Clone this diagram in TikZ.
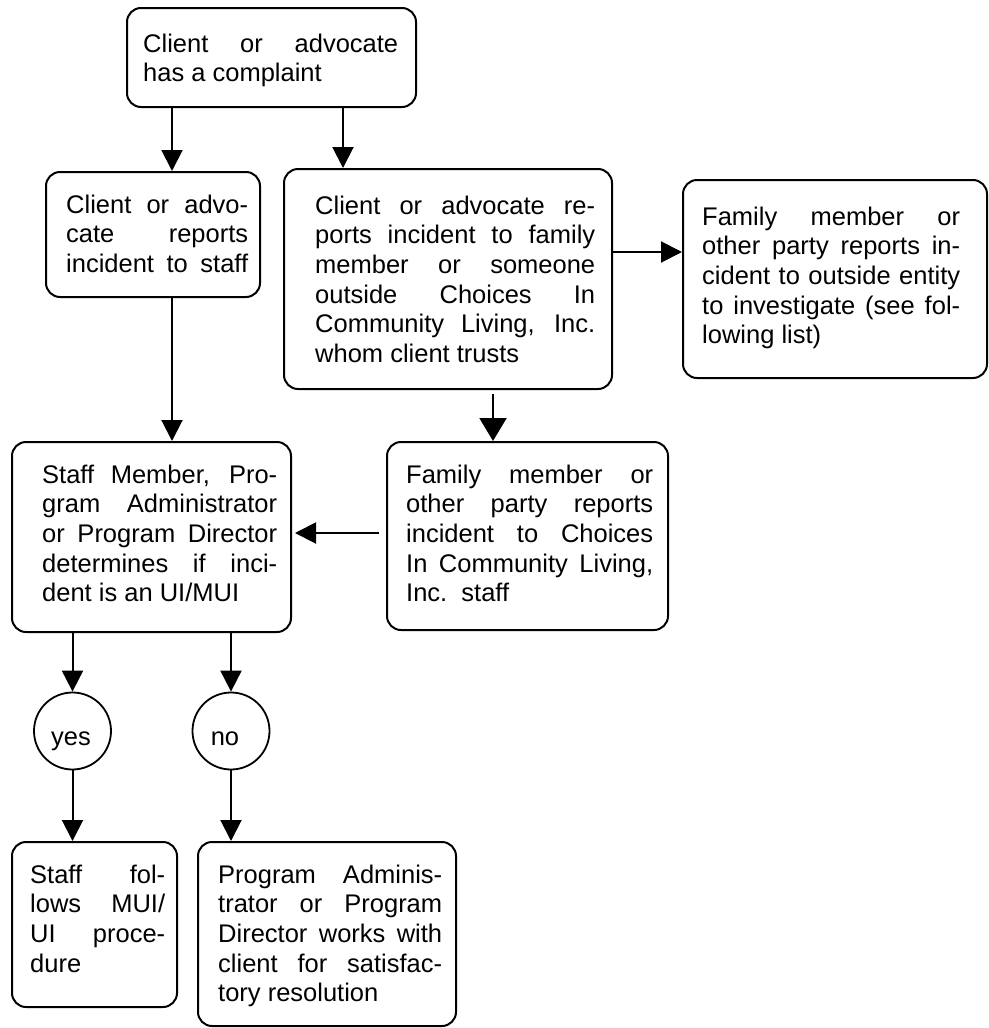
\documentclass[tikz,border=0pt]{standalone}
\usepackage{fontspec}
\setmainfont{Liberation Sans}
\usetikzlibrary{arrows.meta}
\newcommand{\jl}[1]{\hbox to\hsize{#1}}
\newcommand{\nl}[1]{\hbox{#1}}
\newcommand{\txtsize}{\fontsize{25.5pt}{29.7pt}\selectfont}
\hbadness=10000
\begin{document}
\begin{tikzpicture}[x=1pt,y=-1pt,
  box/.style={draw, line width=2pt, rounded corners=14pt, inner sep=0pt, rectangle},
  circ/.style={draw, line width=1.8pt, circle, inner sep=0pt, minimum size=77pt},
  txt/.style={inner sep=0pt, anchor=base west, font=\txtsize},
  lbl/.style={inner sep=0pt, anchor=base, font=\txtsize},
  arr/.style={line width=2pt, -{Triangle[length=21pt,width=21pt]}},
  bigarr/.style={line width=2pt, -{Triangle[length=23pt,width=27pt]}}]
\fill[white] (0,0) rectangle (988,1028);
\useasboundingbox (0,0) rectangle (988,1028);

% boxes
\node[box, minimum width=289pt, minimum height=99pt]  (b1)  at (271.5,57.5) {};
\node[box, minimum width=214pt, minimum height=125pt] (b2)  at (153,234.5) {};
\node[box, minimum width=328pt, minimum height=220pt] (b3)  at (448,279) {};
\node[box, minimum width=304pt, minimum height=198pt] (b4)  at (835,279) {};
\node[box, minimum width=279pt, minimum height=190pt] (b5)  at (151.5,537) {};
\node[box, minimum width=281pt, minimum height=188pt] (b6)  at (527.5,536) {};
\node[box, minimum width=165pt, minimum height=165pt] (b9)  at (94.5,924.5) {};
\node[box, minimum width=258pt, minimum height=184pt] (b10) at (327,934) {};
\node[circ] (c1) at (72.5,731) {};
\node[circ] (c2) at (231,731) {};

% texts
\node[txt] (t1) at (143,52) {\parbox[t]{255pt}{\txtsize
  \jl{Client or advocate}\nl{has a complaint}}};
\node[txt] (t2) at (66,213) {\parbox[t]{182pt}{\txtsize
  \jl{Client or advo-}\jl{cate reports}\jl{incident to staff}}};
\node[txt] (t3) at (315,214) {\parbox[t]{280pt}{\txtsize
  \jl{Client or advocate re-}\jl{ports incident to family}\jl{member or someone}%
  \jl{outside Choices In}\jl{Community Living, Inc.}\nl{whom client trusts}}};
\node[txt] (t4) at (702,225) {\parbox[t]{258pt}{\txtsize
  \jl{Family member or}\jl{other party reports in-}\jl{cident to outside entity}%
  \jl{to investigate (see fol-}\nl{lowing list)}}};
\node[txt] (t5) at (42,483) {\parbox[t]{235pt}{\txtsize
  \jl{Staff Member, Pro-}\jl{gram Administrator}\jl{or Program Director}%
  \jl{determines if inci-}\nl{dent is an UI/MUI}}};
\node[txt] (t6) at (406,483) {\parbox[t]{247pt}{\txtsize
  \jl{Family member or}\jl{other party reports}\jl{incident to Choices}%
  \jl{In Community Living,}\nl{Inc.\ \ staff}}};
\node[txt] (t9) at (30,883) {\parbox[t]{135pt}{\txtsize
  \jl{Staff fol-}\jl{lows MUI/}\jl{UI proce-}\nl{dure}}};
\node[txt] (t10) at (218,883) {\parbox[t]{224pt}{\txtsize
  \jl{Program Adminis-}\jl{trator or Program}\jl{Director works with}%
  \jl{client for satisfac-}\nl{tory resolution}}};
\node[lbl] (ty) at (71,745) {yes};
\node[lbl] (tn) at (225,745) {no};

% helper coordinates
\coordinate (xa) at (172,0);
\coordinate (xb) at (343,0);
\coordinate (xc) at (493,0);
\coordinate (ya) at (0,252);
\coordinate (yb) at (0,533);

% connectors
\draw[arr] (b1.south -| xa) -- (b2.north -| xa);
\draw[arr] (b1.south -| xb) -- (b3.north -| xb);
\draw[arr] (b2.south -| xa) -- (b5.north -| xa);
\draw[arr] (b3.east |- ya) -- (b4.west |- ya);
\draw[bigarr, shorten <=4pt] (b3.south -| xc) -- (b6.north -| xc);
\draw[arr, shorten <=7pt, shorten >=3pt] (b6.west |- yb) -- (b5.east |- yb);
\draw[arr] (b5.south -| c1.north) -- (c1.north);
\draw[arr] (b5.south -| c2.north) -- (c2.north);
\draw[arr] (c1.south) -- (b9.north -| c1.south);
\draw[arr] (c2.south) -- (b10.north -| c2.south);
\end{tikzpicture}
\end{document}
